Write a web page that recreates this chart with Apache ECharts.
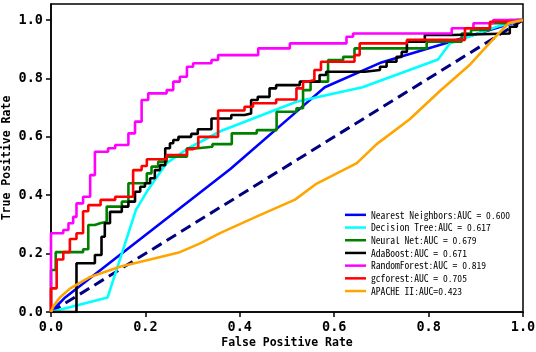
<!DOCTYPE html>
<html>
<head>
<meta charset="utf-8">
<script src="https://cdn.jsdelivr.net/npm/echarts@6/dist/echarts.min.js"></script>
<style>
  html, body { margin: 0; padding: 0; background: #fff; }
  #main { width: 536px; height: 352px; }
</style>
</head>
<body>
<div id="main"></div>
<script>
// legend labels, same order as the curves below
const names = [
    'Nearest Neighbors:AUC = 0.600',
    'Decision Tree:AUC = 0.617',
    'Neural Net:AUC = 0.679',
    'AdaBoost:AUC = 0.671',
    'RandomForest:AUC = 0.819',
    'gcforest:AUC = 0.705',
    'APACHE II:AUC=0.423'
];
const colors = ['#0000ff', '#00ffff', '#008000', '#000000', '#ff00ff', '#ff0000', '#ffa500'];

// [false positive rate, true positive rate]
const nearestNeighbors = [[0, 0], [0.03, 0.05], [0.38, 0.49], [0.53, 0.70], [0.58, 0.77], [0.70, 0.855], [1, 1]];
const decisionTree = [[0, 0], [0.12, 0.05], [0.146, 0.18], [0.18, 0.35], [0.206, 0.42], [0.245, 0.51], [0.29, 0.56],
    [0.36, 0.62], [0.52, 0.72], [0.66, 0.77], [0.82, 0.865], [0.845, 0.92], [0.95, 0.98], [1, 1]];
const neuralNet = [[0, 0], [0, 0.144], [0.01, 0.144], [0.01, 0.205], [0.068, 0.205], [0.068, 0.215], [0.079, 0.215],
    [0.079, 0.298], [0.093, 0.298], [0.093, 0.304], [0.104, 0.304], [0.104, 0.309], [0.118, 0.309], [0.118, 0.361],
    [0.15, 0.361], [0.15, 0.378], [0.164, 0.378], [0.164, 0.441], [0.203, 0.441], [0.203, 0.475], [0.213, 0.475],
    [0.213, 0.498], [0.227, 0.498], [0.227, 0.515], [0.245, 0.515], [0.245, 0.532], [0.288, 0.532], [0.288, 0.561],
    [0.311, 0.561], [0.311, 0.566], [0.342, 0.566], [0.342, 0.575], [0.383, 0.575], [0.383, 0.612], [0.436, 0.612],
    [0.436, 0.623], [0.478, 0.623], [0.478, 0.686], [0.52, 0.686], [0.52, 0.698], [0.534, 0.698], [0.534, 0.76],
    [0.55, 0.76], [0.55, 0.789], [0.587, 0.789], [0.587, 0.863], [0.619, 0.863], [0.619, 0.874], [0.643, 0.874],
    [0.643, 0.903], [0.796, 0.903], [0.796, 0.926], [0.87, 0.926], [0.87, 0.954], [0.89, 0.954], [0.89, 0.966],
    [0.93, 0.966], [0.93, 0.989], [0.97, 0.989], [0.97, 1], [1, 1]];
const adaBoost = [[0, 0], [0.054, 0], [0.054, 0.167], [0.093, 0.167], [0.093, 0.195], [0.107, 0.195], [0.107, 0.258],
    [0.114, 0.258], [0.114, 0.304], [0.125, 0.304], [0.125, 0.343], [0.15, 0.343], [0.15, 0.361], [0.164, 0.361],
    [0.164, 0.378], [0.178, 0.378], [0.178, 0.412], [0.189, 0.412], [0.189, 0.429], [0.199, 0.429], [0.199, 0.441],
    [0.21, 0.441], [0.21, 0.458], [0.22, 0.458], [0.22, 0.486], [0.231, 0.486], [0.231, 0.503], [0.242, 0.503],
    [0.242, 0.561], [0.252, 0.561], [0.252, 0.578], [0.259, 0.578], [0.259, 0.589], [0.27, 0.589], [0.27, 0.6],
    [0.297, 0.6], [0.297, 0.61], [0.311, 0.61], [0.311, 0.626], [0.34, 0.626], [0.34, 0.663], [0.382, 0.663],
    [0.382, 0.675], [0.41, 0.675], [0.41, 0.68], [0.424, 0.68], [0.424, 0.726], [0.438, 0.726], [0.438, 0.737],
    [0.463, 0.737], [0.463, 0.766], [0.477, 0.766], [0.477, 0.777], [0.527, 0.777], [0.527, 0.789], [0.569, 0.789],
    [0.569, 0.812], [0.583, 0.812], [0.583, 0.823], [0.665, 0.823], [0.665, 0.829], [0.697, 0.829], [0.697, 0.84],
    [0.711, 0.84], [0.711, 0.857], [0.732, 0.857], [0.732, 0.874], [0.743, 0.874], [0.743, 0.891], [0.754, 0.891],
    [0.754, 0.926], [0.792, 0.926], [0.792, 0.949], [0.849, 0.949], [0.849, 0.954], [0.972, 0.954], [0.972, 0.977],
    [0.987, 0.977], [0.987, 1], [1, 1]];
const randomForest = [[0, 0], [0, 0.27], [0.026, 0.27], [0.026, 0.281], [0.037, 0.281], [0.037, 0.304], [0.047, 0.304],
    [0.047, 0.326], [0.054, 0.326], [0.054, 0.372], [0.068, 0.372], [0.068, 0.395], [0.083, 0.395], [0.083, 0.469],
    [0.093, 0.469], [0.093, 0.549], [0.121, 0.549], [0.121, 0.561], [0.136, 0.561], [0.136, 0.572], [0.164, 0.572],
    [0.164, 0.612], [0.178, 0.612], [0.178, 0.652], [0.192, 0.652], [0.192, 0.726], [0.206, 0.726], [0.206, 0.749],
    [0.245, 0.749], [0.245, 0.76], [0.259, 0.76], [0.259, 0.789], [0.273, 0.789], [0.273, 0.806], [0.288, 0.806],
    [0.288, 0.84], [0.301, 0.84], [0.301, 0.852], [0.34, 0.852], [0.34, 0.863], [0.354, 0.863], [0.354, 0.88],
    [0.439, 0.88], [0.439, 0.903], [0.506, 0.903], [0.506, 0.92], [0.626, 0.92], [0.626, 0.943], [0.64, 0.943],
    [0.64, 0.954], [0.849, 0.954], [0.849, 0.972], [0.895, 0.972], [0.895, 0.989], [0.937, 0.989], [0.937, 1], [1, 1]];
const gcforest = [[0, 0], [0, 0.081], [0.012, 0.081], [0.012, 0.18], [0.026, 0.18], [0.026, 0.205], [0.04, 0.205],
    [0.04, 0.25], [0.054, 0.25], [0.054, 0.27], [0.068, 0.27], [0.068, 0.345], [0.079, 0.345], [0.079, 0.366],
    [0.105, 0.366], [0.105, 0.384], [0.136, 0.384], [0.136, 0.395], [0.174, 0.395], [0.174, 0.486], [0.192, 0.486],
    [0.192, 0.5], [0.203, 0.5], [0.203, 0.523], [0.245, 0.523], [0.245, 0.538], [0.288, 0.538], [0.288, 0.558],
    [0.301, 0.558], [0.301, 0.564], [0.312, 0.564], [0.312, 0.6], [0.354, 0.6], [0.354, 0.69], [0.41, 0.69],
    [0.41, 0.703], [0.428, 0.703], [0.428, 0.715], [0.477, 0.715], [0.477, 0.728], [0.52, 0.728], [0.52, 0.766],
    [0.534, 0.766], [0.534, 0.789], [0.544, 0.789], [0.544, 0.795], [0.558, 0.795], [0.558, 0.829], [0.572, 0.829],
    [0.572, 0.857], [0.643, 0.857], [0.643, 0.88], [0.654, 0.88], [0.654, 0.92], [0.754, 0.92], [0.754, 0.932],
    [0.877, 0.932], [0.877, 0.972], [0.93, 0.972], [0.93, 0.994], [0.987, 0.994], [0.987, 1], [1, 1]];
const apache = [[0, 0], [0.005, 0.02], [0.019, 0.05], [0.04, 0.08], [0.083, 0.12], [0.146, 0.155], [0.21, 0.18],
    [0.273, 0.205], [0.316, 0.235], [0.358, 0.27], [0.44, 0.33], [0.517, 0.385], [0.563, 0.44], [0.648, 0.51],
    [0.69, 0.575], [0.76, 0.66], [0.824, 0.757], [0.888, 0.848], [0.937, 0.935], [0.97, 0.99], [1, 1]];
const chance = [[0, 0], [1, 1]];

const xTicks = [0, 0.2, 0.4, 0.6, 0.8, 1.0];
const yTicks = [0, 0.2, 0.4, 0.6, 0.8, 1.0];

const curves = [nearestNeighbors, decisionTree, neuralNet, adaBoost, randomForest, gcforest, apache];

const monoFont = '"DejaVu Sans Mono", monospace';
const legendFont = '"Noto Sans Mono CJK SC", "DejaVu Sans Mono", monospace';

function axisBase(ticks) {
    return {
        type: 'value',
        splitLine: { show: false },
        axisLine: { show: true, lineStyle: { color: '#000', width: 1.5 } },
        axisTick: { show: true, inside: false, length: 5, customValues: ticks, lineStyle: { color: '#000', width: 1.5 } },
        axisLabel: {
            color: '#000', fontFamily: monoFont, fontSize: 13.5, fontWeight: 'bold', margin: 8, customValues: ticks,
            formatter: v => v.toFixed(1)
        },
        nameLocation: 'middle',
        nameMoveOverlap: false,
        nameTextStyle: { color: '#000', fontFamily: monoFont, fontSize: 11.5, fontWeight: 'bold' }
    };
}

const chartDom = document.getElementById('main');
const myChart = echarts.init(chartDom, null, { renderer: 'canvas' });

const series = [{
    type: 'line',
    data: chance,
    showSymbol: false,
    symbol: 'none',
    silent: true,
    lineStyle: { color: '#000080', width: 3, type: [11, 6] }
}];
curves.forEach((d, i) => {
    series.push({
        name: names[i],
        type: 'line',
        data: d,
        showSymbol: false,
        symbol: 'none',
        itemStyle: { color: colors[i] },
        lineStyle: { color: colors[i], width: 2.6 }
    });
});

myChart.setOption({
    animation: false,
    color: colors,
    grid: {
        left: 51, right: 13, top: 4, bottom: 40,
        show: true, borderColor: '#000', borderWidth: 1.5,
        outerBoundsMode: 'none'
    },
    xAxis: Object.assign(axisBase(xTicks), {
        min: 0, max: 1, interval: 0.2,
        name: 'False Positive Rate', nameGap: 25
    }),
    yAxis: Object.assign(axisBase(yTicks), {
        min: 0, max: 1.055, interval: 0.2,
        name: 'True Positive Rate', nameGap: 38
    }),
    legend: {
        data: names,
        orient: 'vertical',
        left: 345, top: 208.5,
        padding: 0,
        itemGap: 0,
        itemWidth: 21,
        itemHeight: 2.5,
        icon: 'rect',
        textStyle: { color: '#000', fontFamily: legendFont, fontSize: 9.6, lineHeight: 12.7 }
    },
    series
});
</script>
</body>
</html>
